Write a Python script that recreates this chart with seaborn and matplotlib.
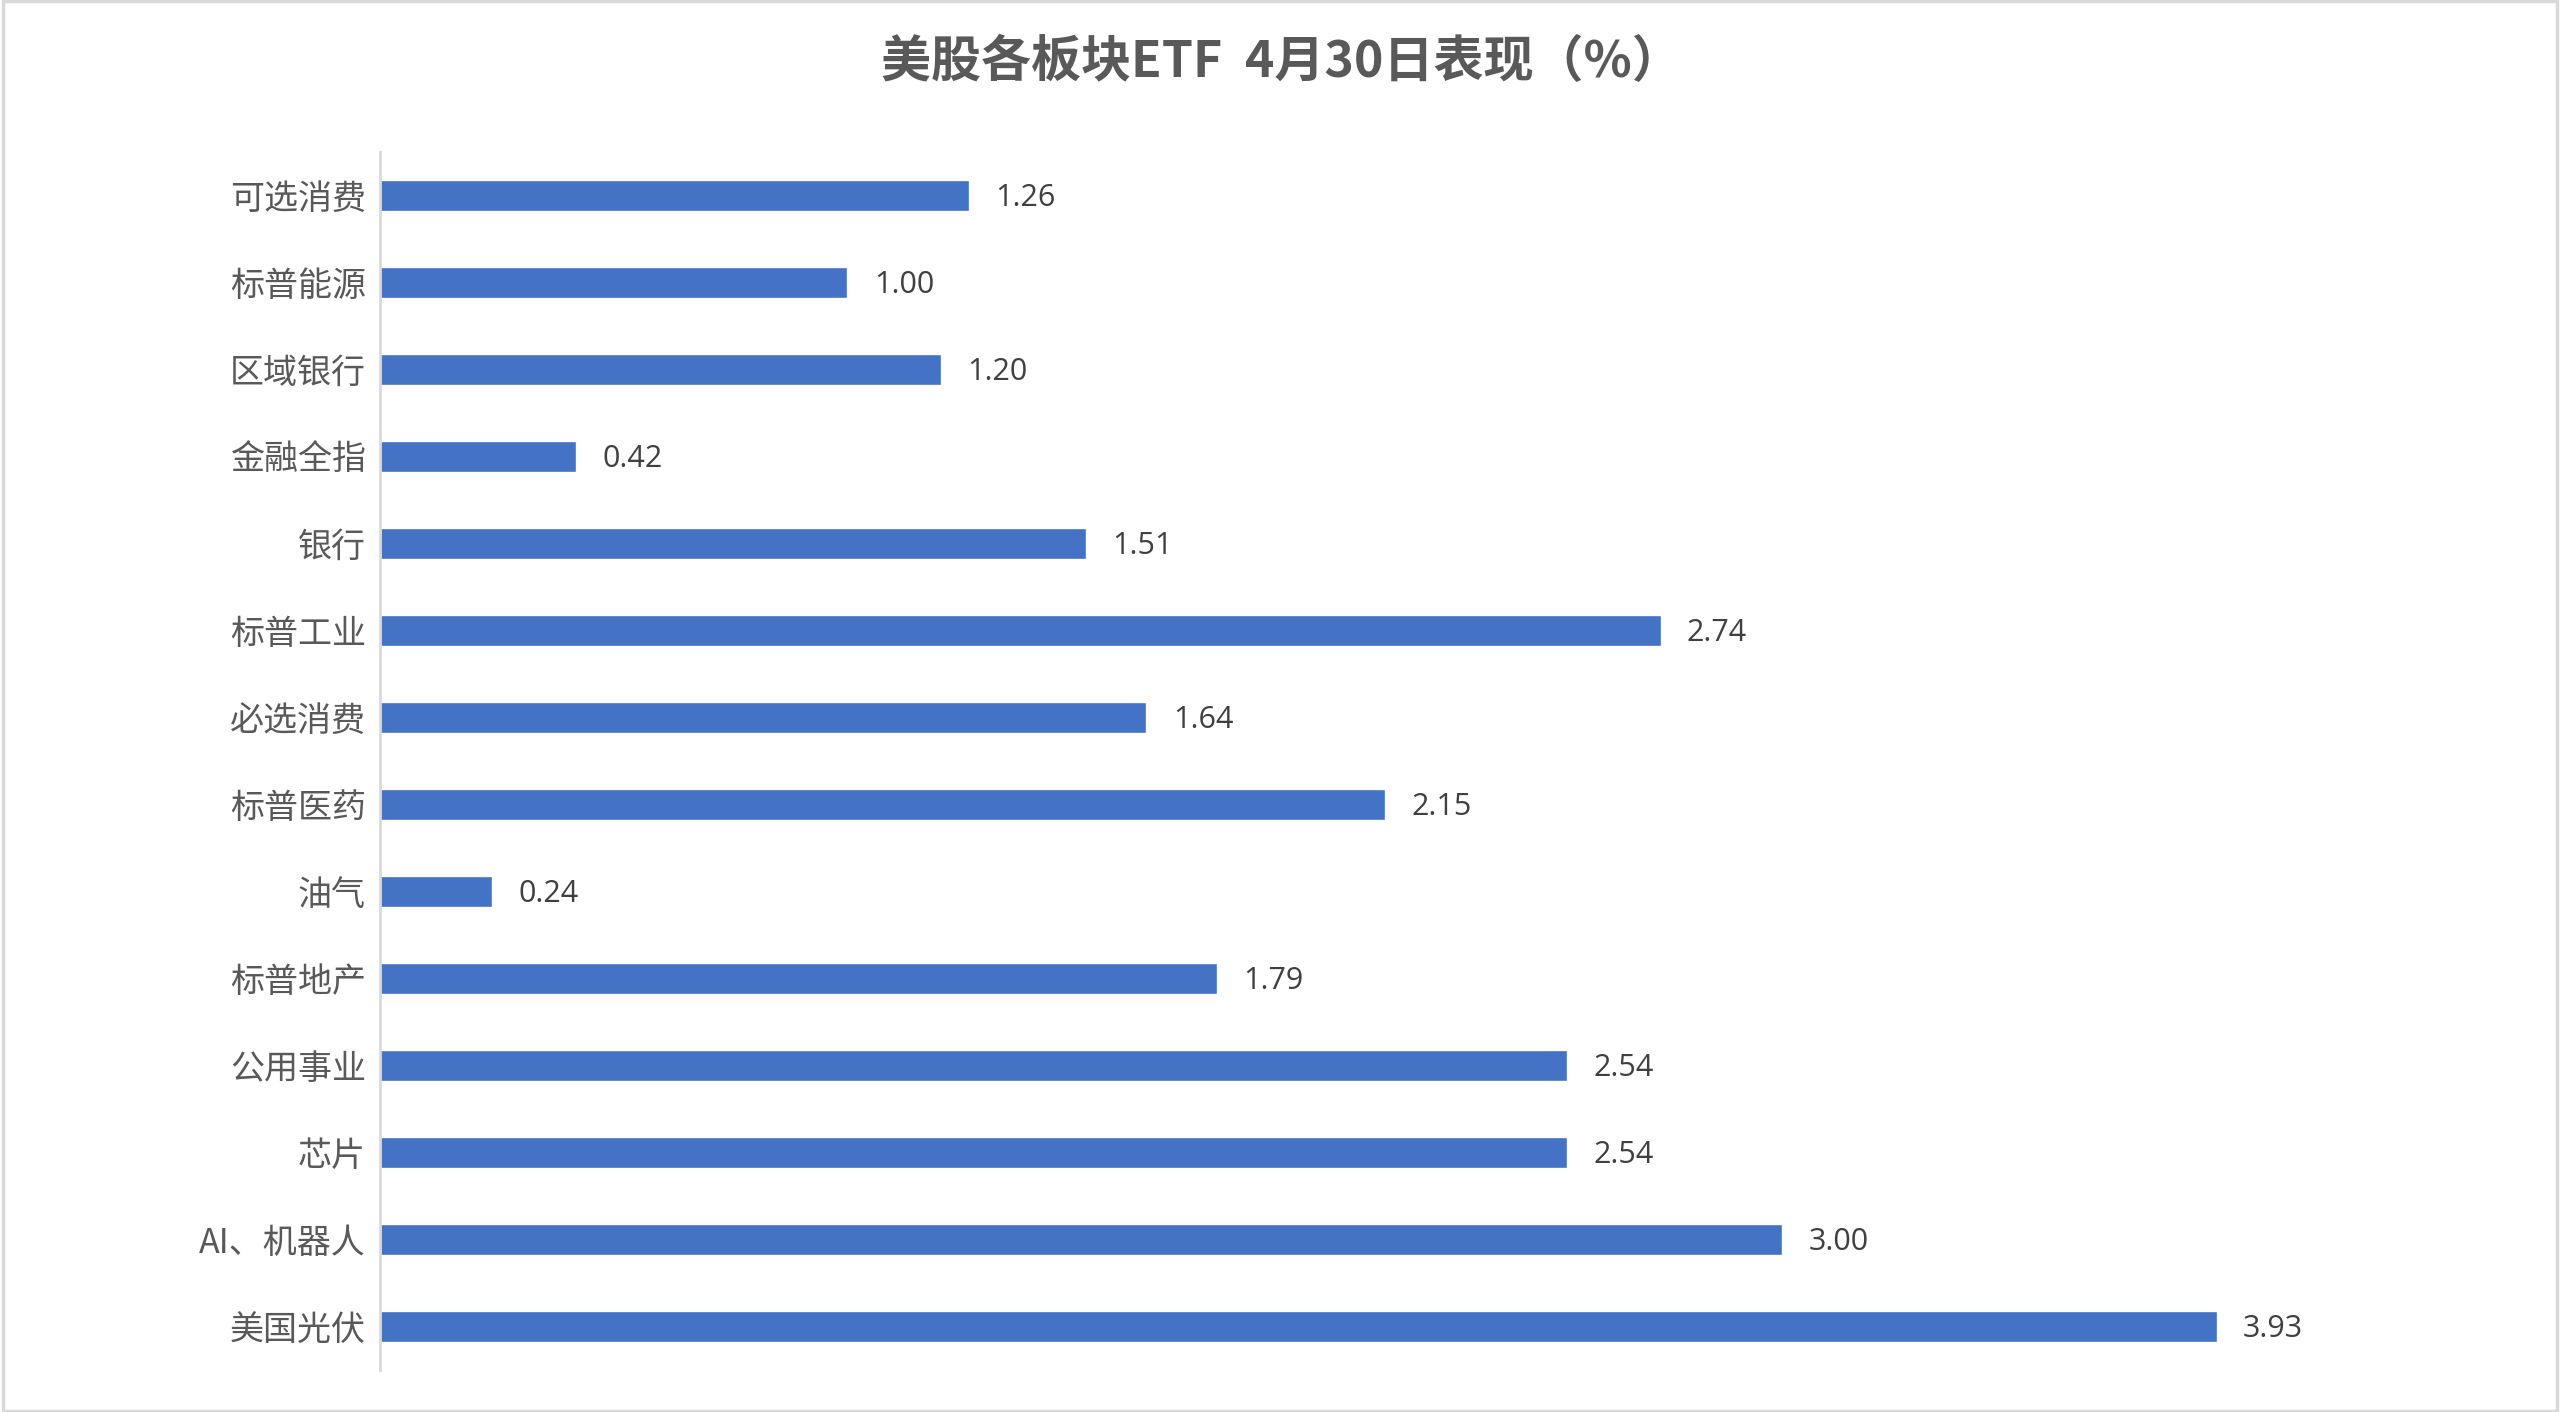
import numpy as np
import pandas as pd
import matplotlib
matplotlib.use("Agg")
import matplotlib.pyplot as plt
import seaborn as sns
from matplotlib.patches import Rectangle

# 数据
sectors = ["可选消费", "标普能源", "区域银行", "金融全指", "银行", "标普工业", "必选消费",
           "标普医药", "油气", "标普地产", "公用事业", "芯片", "AI、机器人", "美国光伏"]
values = [1.26, 1.00, 1.20, 0.42, 1.51, 2.74, 1.64, 2.15, 0.24, 1.79, 2.54, 2.54, 3.00, 3.93]
title = "美股各板块ETF  4月30日表现（%）"

df = pd.DataFrame({"sector": sectors, "value": values})

sns.set_style("white")
plt.rcParams["font.family"] = ["Noto Sans CJK SC", "DejaVu Sans"]

fig = plt.figure(figsize=(25.6, 14.12), dpi=100)
ax = fig.add_axes([0.1484, 0.0297, 0.8216, 0.8627])

sns.barplot(data=df, x="value", y="sector", orient="h", color="#4472C4",
            saturation=1, width=0.35, ax=ax)

ax.set_xlim(0, 4.5)
ax.set_ylim(len(sectors) - 0.5, -0.5)
ax.set_xlabel("")
ax.set_ylabel("")
ax.xaxis.set_visible(False)
for s in ["top", "right", "bottom"]:
    ax.spines[s].set_visible(False)
ax.spines["left"].set_color("#d9d9d9")
ax.spines["left"].set_linewidth(2)

ax.set_yticks(range(len(sectors)))
ax.set_yticklabels(sectors, fontweight="medium")
ax.set_yticks(np.arange(-0.5, len(sectors)), minor=True)
ax.tick_params(axis="y", which="major", direction="in", length=7, width=2,
               color="#d9d9d9", labelsize=24.5, labelcolor="#595959", pad=10)
ax.tick_params(axis="y", which="minor", direction="in", length=10, width=2,
               color="#d9d9d9")
ax.set_axisbelow(False)

for c in ax.containers:
    labels = ax.bar_label(c, fmt="%.2f", padding=19, fontsize=22, color="#404040",
                          family=["Open Sans", "DejaVu Sans"])
    for t in labels:
        t.xyann = (19, -2)

fig.text(0.5005, 0.956, title, ha="center", va="center", fontsize=36,
         fontweight="bold", color="#595959")

fig.patches.append(Rectangle((0.001, 0.001), 0.998, 0.998, transform=fig.transFigure,
                             fill=False, edgecolor="#d9d9d9", linewidth=2.5))

fig.savefig("out.png", dpi=100)
